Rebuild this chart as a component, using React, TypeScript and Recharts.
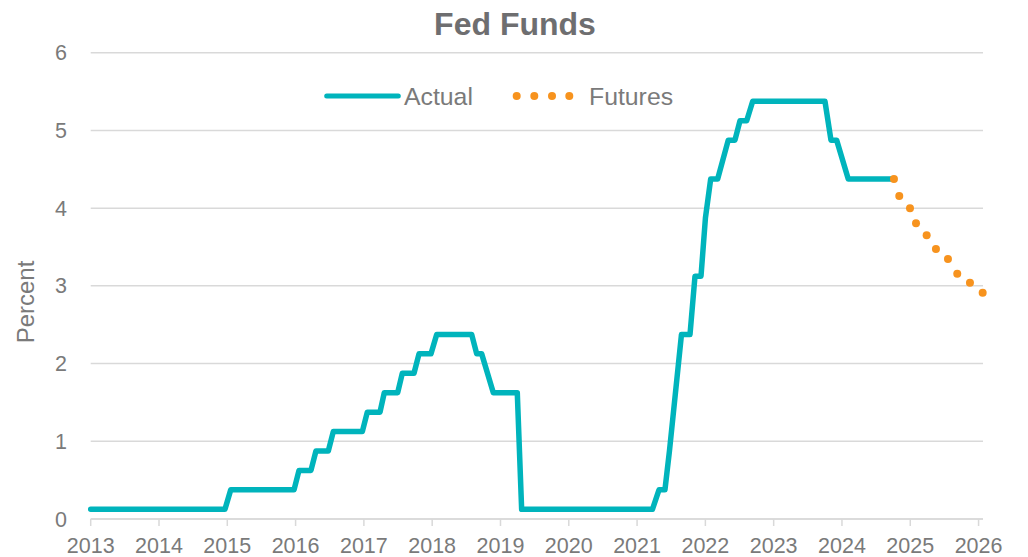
import React from "react"
import { CartesianGrid, Legend, Line, LineChart, XAxis, YAxis } from "recharts"

// actual fed funds (step breakpoints, decimal years)
const actualYears = [
    2013.0, 2014.966, 2015.05, 2015.977, 2016.05, 2016.225, 2016.298, 2016.479, 2016.552, 2016.977,
    2017.05, 2017.236, 2017.299, 2017.495, 2017.562, 2017.734, 2017.807, 2017.982, 2018.066, 2018.578,
    2018.652, 2018.725, 2018.895, 2019.246, 2019.31, 2021.225, 2021.321, 2021.408, 2021.474, 2021.65,
    2021.775, 2021.848, 2021.936, 2022.001, 2022.078, 2022.18, 2022.335, 2022.433, 2022.507, 2022.605,
    2022.693, 2023.751, 2023.839, 2023.922, 2024.092, 2024.761,
]
const actualRates = [
    0.125, 0.125, 0.375, 0.375, 0.625, 0.625, 0.875, 0.875, 1.125, 1.125,
    1.375, 1.375, 1.625, 1.625, 1.875, 1.875, 2.125, 2.125, 2.375, 2.375,
    2.125, 2.125, 1.625, 1.625, 0.125, 0.125, 0.375, 0.375, 0.875, 2.375,
    2.375, 3.125, 3.125, 3.875, 4.375, 4.375, 4.875, 4.875, 5.125, 5.125,
    5.375, 5.375, 4.875, 4.875, 4.375, 4.375,
]

// futures path
const futuresYears = [2024.761, 2024.839, 2024.996, 2025.084, 2025.24, 2025.376, 2025.552, 2025.688, 2025.874, 2026.06]
const futuresRates = [4.375, 4.157, 4.0, 3.805, 3.651, 3.475, 3.346, 3.157, 3.04, 2.912]

const yearTicks = [2013, 2014, 2015, 2016, 2017, 2018, 2019, 2020, 2021, 2022, 2023, 2024, 2025, 2026]
const percentTicks = [0, 1, 2, 3, 4, 5, 6]

const TEAL = "#00B4BC"
const ORANGE = "#F7931E"
const GRID = "#D9D9D9"
const TEXT = "#7A7A7A"
const FONT = "'Liberation Sans', Arial, Helvetica, sans-serif"

type Row = { x: number; actual?: number | null; futures?: number | null }

const buildData = (): Row[] => {
    const rows: Row[] = actualYears.map((x, i) => ({ x, actual: actualRates[i], futures: null }))
    futuresYears.forEach((x, i) => {
        const hit = rows.find((r) => r.x === x)
        if (hit) hit.futures = futuresRates[i]
        else rows.push({ x, actual: null, futures: futuresRates[i] })
    })
    return rows.sort((a, b) => a.x - b.x)
}

const data = buildData()

const renderLegend = () => (
    <svg width={370} height={26} style={{ display: "block", overflow: "visible" }}>
        <line x1={6.7} y1={12} x2={78.3} y2={12} stroke={TEAL} strokeWidth={5} strokeLinecap="round" />
        <text x={84} y={20.5} fontSize={24.8} fill={TEXT} fontFamily={FONT}>
            Actual
        </text>
        {[196.7, 214.3, 232, 249.3].map((cx) => (
            <circle key={cx} cx={cx} cy={12} r={4} fill={ORANGE} />
        ))}
        <text x={269} y={20.5} fontSize={24.8} fill={TEXT} fontFamily={FONT}>
            Futures
        </text>
    </svg>
)

export default function App() {
    return (
        <div
            style={{
                position: "fixed",
                top: 0,
                left: 0,
                width: 1028,
                height: 557,
                background: "#fff",
                fontFamily: FONT,
            }}
        >
            <div
                style={{
                    position: "absolute",
                    top: 8,
                    left: 0,
                    width: 1030,
                    textAlign: "center",
                    fontSize: 32,
                    lineHeight: "32px",
                    fontWeight: 700,
                    color: "#6E6E70",
                }}
            >
                Fed Funds
            </div>
            <LineChart
                width={1028}
                height={557}
                data={data}
                margin={{ top: 52.7, right: 45, bottom: 0, left: 0 }}
            >
                <CartesianGrid vertical={false} stroke={GRID} strokeWidth={1.5} />
                <XAxis
                    dataKey="x"
                    type="number"
                    domain={[2013, 2026.065]}
                    ticks={yearTicks}
                    interval={0}
                    height={38}
                    tick={{ fill: TEXT, fontSize: 21.5, fontFamily: FONT }}
                    axisLine={{ stroke: GRID, strokeWidth: 1.5 }}
                    tickLine={{ stroke: GRID, strokeWidth: 1.5 }}
                    tickSize={7}
                    tickMargin={12}
                />
                <YAxis
                    type="number"
                    domain={[0, 6]}
                    ticks={percentTicks}
                    width={90.7}
                    axisLine={false}
                    tickLine={false}
                    tickMargin={17.7}
                    tick={{ fill: TEXT, fontSize: 21.5, fontFamily: FONT }}
                    label={{
                        content: () => (
                            <text
                                x={25}
                                y={302}
                                transform="rotate(-90 25 302)"
                                textAnchor="middle"
                                dominantBaseline="central"
                                fontSize={24}
                                fill={TEXT}
                                fontFamily={FONT}
                            >
                                Percent
                            </text>
                        ),
                    }}
                />
                <Legend
                    layout="horizontal"
                    verticalAlign="middle"
                    align="center"
                    content={renderLegend}
                    wrapperStyle={{ top: 84, left: 320, width: 370, height: 26 }}
                />
                <Line
                    type="linear"
                    dataKey="actual"
                    stroke={TEAL}
                    strokeWidth={5.5}
                    strokeLinejoin="round"
                    strokeLinecap="round"
                    dot={false}
                    activeDot={false}
                    isAnimationActive={false}
                />
                <Line
                    type="linear"
                    dataKey="futures"
                    stroke="none"
                    dot={{ r: 4, fill: ORANGE, stroke: "none" }}
                    activeDot={false}
                    isAnimationActive={false}
                />
            </LineChart>
        </div>
    )
}
